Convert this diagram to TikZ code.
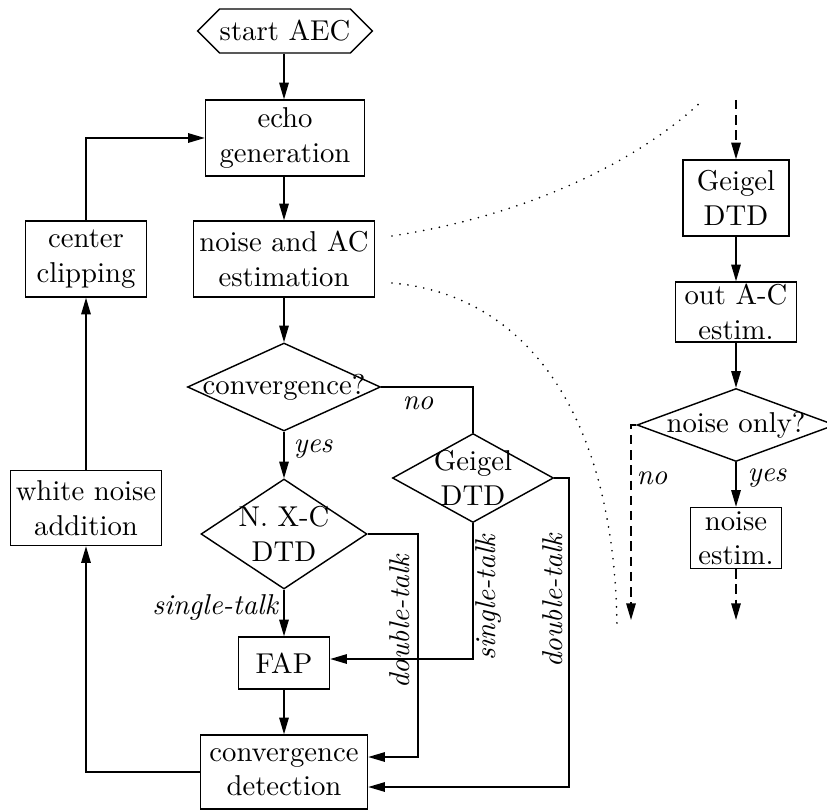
\documentclass[tikz,border=0pt]{standalone}
\usetikzlibrary{arrows.meta,shapes.geometric,shapes.symbols}
\newlength\pxu
\setlength\pxu{0.3484pt}
\begin{document}
\begin{tikzpicture}[x=0.3484pt, y=-0.3484pt, line width=0.5pt,
  >={Triangle[length=5.8pt,width=3.3pt]},
  box/.style={draw, rectangle, align=center, inner sep=0pt},
  dmd/.style={draw, diamond, inner sep=0pt},
  lbl/.style={font=\itshape, inner sep=1pt},
  dashline/.style={dash pattern=on 3.3pt off 2pt},
  dotline/.style={line width=0.65pt, line cap=round, dash pattern=on 0pt off 2.8pt}]
\useasboundingbox (0,0) rectangle (827,810);

% main column
\node[draw, signal, signal to=west and east, inner sep=0pt,
      minimum width=173\pxu, minimum height=44\pxu] (start) at (285,31) {start AEC};
\node[box, minimum width=159\pxu, minimum height=76\pxu] (echo) at (285,138) {echo\\generation};
\node[box, minimum width=181\pxu, minimum height=76\pxu] (noise) at (284,259) {noise and AC\\estimation};
\node[box, minimum width=121\pxu, minimum height=76\pxu] (clip) at (86,259) {center\\clipping};
\node[dmd, minimum width=193\pxu, minimum height=88\pxu,
      label={center:convergence?}] (conv) at (284,387) {};
\node[dmd, minimum width=166\pxu, minimum height=110\pxu,
      label={[align=center]center:N.~X-C\\DTD}] (nxc) at (284,534) {};
\node[dmd, minimum width=161\pxu, minimum height=89\pxu,
      label={[align=center]center:Geigel\\DTD}] (gdtd) at (473,478) {};
\node[box, minimum width=91\pxu, minimum height=52\pxu] (fap) at (284,663) {FAP};
\node[box, minimum width=167\pxu, minimum height=74\pxu] (det) at (284,772) {convergence\\detection};
\node[box, minimum width=151\pxu, minimum height=75\pxu] (wna) at (86,508) {white noise\\addition};

% detail column
\node[box, minimum width=106\pxu, minimum height=76\pxu] (rg) at (736,198) {Geigel\\DTD};
\node[box, minimum width=121\pxu, minimum height=60\pxu] (oac) at (736,312) {out A-C\\estim.};
\node[dmd, minimum width=198\pxu, minimum height=73\pxu,
      label={center:noise only?}] (nonly) at (736,425) {};
\node[box, minimum width=91\pxu, minimum height=61\pxu] (nest) at (736,538) {noise\\estim.};

% free ends and bends
\coordinate (rtop) at (736,100);
\coordinate (nofree) at (631,620);
\coordinate (yesfree) at (736,620);
\coordinate (k1) at (418,757);
\coordinate (k2) at (569,787);
\coordinate (k3) at (473,659);

% labels
\node[lbl] (yes1) at (313,449) {yes};
\node[lbl] (no1) at (418,403) {no};
\node[lbl] (st1) at (215,607) {single-talk};
\node[lbl, rotate=90] (dt1) at (400,622) {double-talk};
\node[lbl, rotate=90] (st2) at (488,598) {single-talk};
\node[lbl, rotate=90] (dt2) at (553,601) {double-talk};
\node[lbl] (no2) at (652,478) {no};
\node[lbl] (yes2) at (767,478) {yes};

% connectors, main loop
\draw[->] (start.south -| noise.north) -- (noise.north |- echo.north);
\draw[->] (echo.south -| noise.north) -- (noise.north);
\draw[->] (noise) -- (conv);
\draw[->] (conv) -- (nxc);
\draw (conv.east) -| (gdtd.north);
\draw[->] (nxc) -- (fap);
\draw[->] (nxc.east) -| (k1) -- (k1 -| det.east);
\draw[->] (gdtd.south) -- (k3) -- (k3 -| fap.east);
\draw[->] (gdtd.east) -| (k2) -- (k2 -| det.east);
\draw[->] (fap) -- (det);
\draw[->] (det.west) -| (wna.south);
\draw[->] (wna) -- (clip);
\draw[->] (clip.north) |- (echo.west);

% connectors, detail column
\draw[->, dashline] (rtop) -- (rg);
\draw[->] (rg) -- (oac);
\draw[->] (oac) -- (nonly);
\draw[->] (nonly) -- (nest);
\draw[->, dashline] (nonly.west) -| (nofree);
\draw[->, dashline] (nest) -- (yesfree);

% zoom guides
\coordinate (z1s) at (392,236);
\coordinate (z1e) at (703,100);
\coordinate (z2s) at (392,283);
\coordinate (z2e) at (617,628);
\draw[dotline] (z1s) .. controls (530,215) and (640,160) .. (z1e);
\draw[dotline] (z2s) .. controls (530,295) and (615,420) .. (z2e);
\end{tikzpicture}
\end{document}
